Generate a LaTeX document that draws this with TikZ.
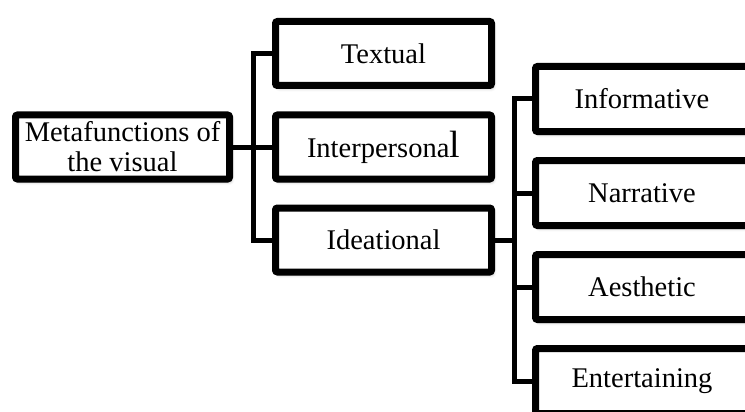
\documentclass[tikz,border=0pt]{standalone}
\usepackage{fontspec}
\setmainfont{Liberation Serif}
\usetikzlibrary{shadows.blur}
\tikzset{
  stage/.style={draw=black, line width=7pt, rounded corners=2pt, fill=white,
    inner sep=0pt, align=center, font=\fontsize{28.5}{30}\selectfont,
    minimum width=216pt, minimum height=64pt,
    blur shadow={shadow xshift=2pt, shadow yshift=-3pt, shadow blur radius=3pt, shadow opacity=30}},
  link/.style={line width=5pt}
}
\begin{document}
\begin{tikzpicture}[x=1pt,y=-1pt]
\path[use as bounding box, clip] (0,0) rectangle (745,412);
\node[stage,minimum width=214pt] (root) at (122.5,147) {Metafunctions of\\the visual};
\node[stage] (txt) at (383.5,53.5) {Textual};
\node[stage] (inter) at (383.5,147) {Interpersona{\fontsize{38}{38}\selectfont l}};
\node[stage] (idea) at (383.5,240) {Ideational};
\node[stage,minimum width=213pt,minimum height=65pt] (info) at (642,99) {Informative};
\node[stage,minimum width=213pt,minimum height=65pt] (narr) at (642,193) {Narrative};
\node[stage,minimum width=213pt,minimum height=65pt] (aest) at (642,287) {Aesthetic};
\node[stage,minimum width=213pt,minimum height=65pt] (ent) at (642,381) {Entertaining};
\coordinate (j1) at (253,147);
\coordinate (j2) at (514,240);
\draw[link] (root.east) -- (inter.west);
\draw[link] (txt.west) -| (j1) |- (idea.west);
\draw[link] (idea.east) -- (j2);
\draw[link] (info.west) -| (j2) |- (ent.west);
\draw[link] (narr.west) -- (narr.west -| j2);
\draw[link] (aest.west) -- (aest.west -| j2);
\end{tikzpicture}
\end{document}
